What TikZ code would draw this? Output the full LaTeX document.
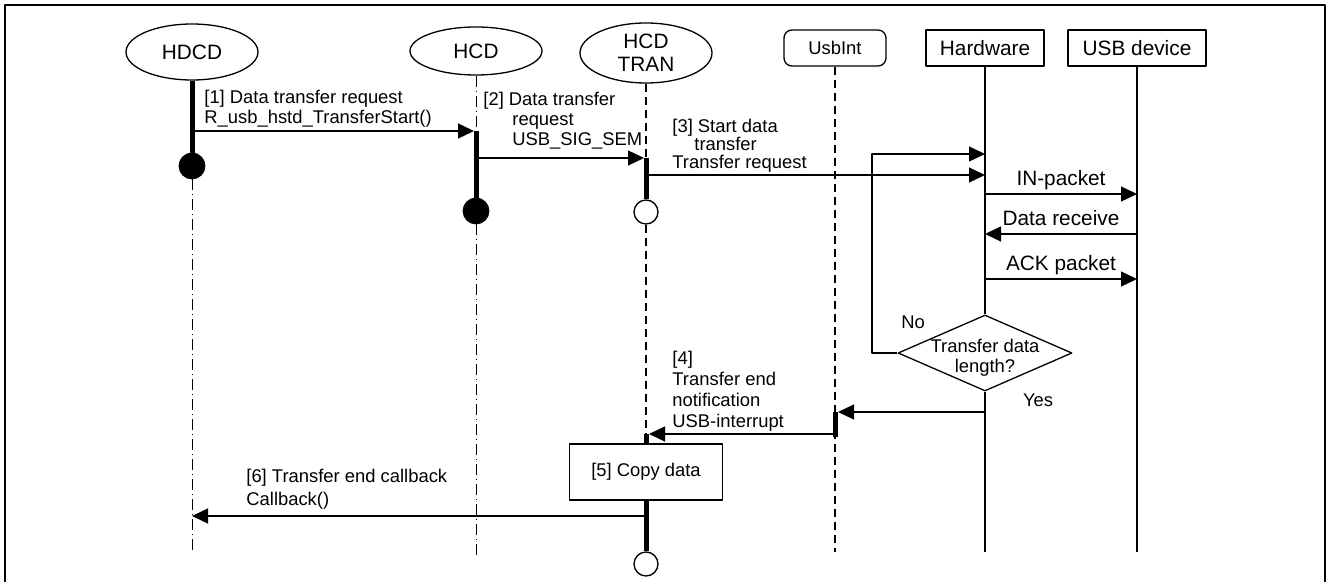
\documentclass[tikz,border=0pt]{standalone}
\usepackage{fontspec}
\setmainfont{Liberation Sans}
\usetikzlibrary{arrows.meta,shapes.geometric,positioning}
\begin{document}
\begin{tikzpicture}[x=0.5pt, y=-0.5pt, line join=round, >={Triangle[length=8pt,width=7.5pt]},
	big/.style={font=\fontsize{10.4}{11.5}\selectfont},
	small/.style={font=\fontsize{9.2}{10}\selectfont},
	obj/.style={draw, ellipse, line width=0.65pt, inner sep=0pt, minimum width=66pt, align=center, big},
	blk/.style={draw, line width=0.65pt, inner sep=0pt, minimum height=18pt, big},
	lbl/.style={small, inner sep=0pt, align=left},
	msg/.style={->, line width=0.65pt},
	bar/.style={line width=2.5pt},
	dotline/.style={line width=0.5pt, dash pattern=on 5.5pt off 2pt on 0.5pt off 2pt},
	dashline/.style={line width=0.6pt, dash pattern=on 4pt off 2.5pt},
	hwline/.style={line width=0.65pt},
	fulldot/.style={draw, circle, fill, inner sep=0pt, minimum size=13pt},
	opendot/.style={draw, circle, fill=white, line width=0.65pt, inner sep=0pt, minimum size=12pt}]
	\useasboundingbox (0,0) rectangle (1328,582);
	\draw [line width=1pt] (5,582)--(5,5)--(1325,5)--(1325,582);
	% objects
	\node[obj, minimum height=28pt] (hdcd) at (192,52) {HDCD};
	\node[obj, minimum height=24pt] (hcd) at (476,51) {HCD};
	\node[obj, minimum height=30pt] (tran) at (646,53) {HCD\\TRAN};
	\node[blk, rounded corners=4pt, minimum width=51pt, small] (usbint) at (835,48) {UsbInt};
	\node[blk, minimum width=59pt] (hw) at (985,48) {Hardware};
	\node[blk, minimum width=69pt] (dev) at (1137,48) {USB device};
	% HDCD
	\node[fulldot] (hdcdend) at (192,166) {};
	\coordinate (hdcdbot) at (192,550);
	\draw [bar] (hdcd) -- (hdcdend);
	\draw [dotline] (hdcdend) -- (hdcdbot);
	% HCD
	\coordinate (hcdtop) at (476,131);
	\node[fulldot] (hcdend) at (476,211) {};
	\coordinate (hcdbot) at (476,555);
	\draw [dotline] (hcd) -- (hcdtop);
	\draw [bar] (hcdtop) -- (hcdend);
	\draw [dotline] (hcdend) -- (hcdbot);
	% HCD TRAN
	\coordinate (trantop) at (646,158);
	\node[opendot] (tranend) at (646,212) {};
	\coordinate (tranret) at (646,434);
	\node[draw, line width=0.65pt, small, minimum width=76.5pt, minimum height=28pt] (copy) at (646,472) {[5] Copy data};
	\node[opendot] (tranfin) at (646,564) {};
	\draw [dashline] (tran) -- (trantop);
	\draw [bar] (trantop) -- (tranend);
	\draw [dashline] (tranend) -- (tranret);
	\draw [bar] (tranret) -- (copy);
	\draw [bar] (copy) -- (tranfin);
	% UsbInt
	\coordinate (uitop) at (835,412);
	\coordinate (uiend) at (835,437);
	\coordinate (uibot) at (835,552);
	\draw [dashline] (usbint) -- (uibot);
	\draw [bar] (uitop) -- (uiend);
	% Hardware, USB device
	\node[draw, diamond, line width=0.65pt, inner sep=0pt, minimum width=87pt, minimum height=38pt] (dec) at (985,353) {};
	\node[small, align=center, inner sep=0pt] (dectxt) at (985,358) {Transfer data\\length?};
	\coordinate (hwbot) at (985,552);
	\coordinate (devbot) at (1137,552);
	\draw [hwline] (hw) -- (dec);
	\draw [hwline] (dec) -- (hwbot);
	\draw [hwline] (dev) -- (devbot);
	\node[small] (no) at (913,322) {No};
	\node[small] (yes) at (1038,400) {Yes};
	% messages
	\coordinate (m1s) at (192,131);
	\coordinate (m1e) at (474,131);
	\coordinate (m2s) at (476,158);
	\coordinate (m2e) at (644,158);
	\coordinate (m3s) at (648,175);
	\coordinate (m3e) at (985,175);
	\coordinate (loopc) at (872,154);
	\coordinate (loope) at (985,154);
	\coordinate (ins) at (985,194);
	\coordinate (ine) at (1137,194);
	\coordinate (drs) at (1137,234);
	\coordinate (dre) at (985,234);
	\coordinate (acks) at (985,279);
	\coordinate (acke) at (1137,279);
	\coordinate (hws) at (985,412);
	\coordinate (hwe) at (838,412);
	\coordinate (m4s) at (835,434);
	\coordinate (m4e) at (649,434);
	\coordinate (m6s) at (646,516);
	\coordinate (m6e) at (192,516);
	\draw [msg] (m1s) -- (m1e);
	\draw [msg] (m2s) -- (m2e);
	\draw [msg] (m3s) -- (m3e);
	\draw [msg] (dec.west) -| (loopc) -- (loope);
	\draw [msg] (ins) -- (ine) node[midway, anchor=base, yshift=4pt, big] (lin) {IN-packet};
	\draw [msg] (drs) -- (dre) node[midway, anchor=base, yshift=4pt, big] (ldr) {Data receive};
	\draw [msg] (acks) -- (acke) node[midway, anchor=base, yshift=4pt, big] (lack) {ACK packet};
	\draw [msg] (hws) -- (hwe);
	\draw [msg] (m4s) -- (m4e);
	\draw [msg] (m6s) -- (m6e);
	% labels (base = last line)
	\node[lbl, anchor=base west] (l1) at (204,124) {[1] Data transfer request\\R\_usb\_hstd\_TransferStart()};
	\node[lbl, anchor=base west] (l2) at (483,146) {[2] Data transfer\\\hspace*{14.5pt}request\\\hspace*{14.5pt}USB\_SIG\_SEM};
	\node[lbl, anchor=base west, font=\fontsize{9.2}{9}\selectfont] (l3) at (672,169) {[3] Start data\\\hspace*{11pt}transfer\\Transfer request};
	\node[lbl, anchor=base west, font=\fontsize{9.2}{10.5}\selectfont] (l4) at (672,428) {[4]\\Transfer end\\notification\\USB-interrupt};
	\node[lbl, anchor=base west, font=\fontsize{9.2}{11}\selectfont] (l6) at (246,505) {[6] Transfer end callback\\Callback()};
\end{tikzpicture}
\end{document}
